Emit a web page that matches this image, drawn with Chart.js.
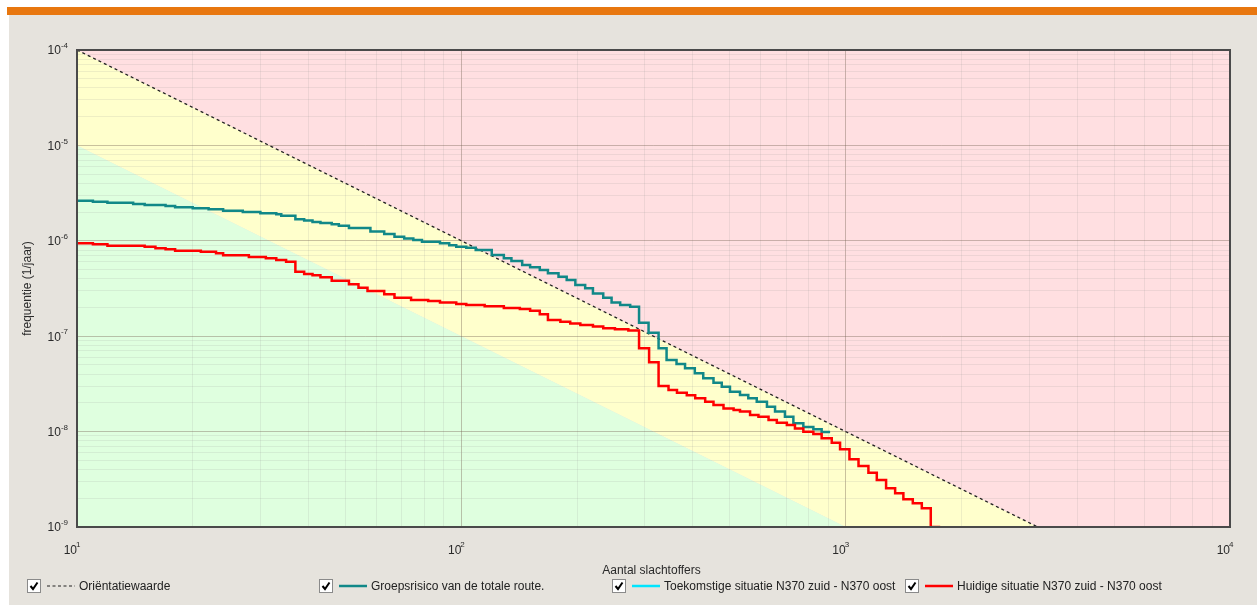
<!DOCTYPE html>
<html>
<head>
<meta charset="utf-8">
<script src="https://cdn.jsdelivr.net/npm/chart.js@4.4.1/dist/chart.umd.min.js"></script>
<style>
  html, body { margin: 0; padding: 0; background: #fff; }
  #page { position: relative; width: 1257px; height: 605px; overflow: hidden; font-family: "Liberation Sans", Arial, sans-serif; }
  #bar { position: absolute; left: 7px; top: 7px; right: 0; height: 8px; background: #e8770f; }
  #panel { position: absolute; left: 9px; top: 15px; right: 0; bottom: 0; background: #e6e3dd; }
  #fnChart { position: absolute; left: 0; top: 0; }
  .item { position: absolute; top: 579px; height: 14px; font-size: 12px; color: #222; white-space: nowrap; }
  .item svg { position: absolute; top: 0; }
  .item span { position: absolute; top: 0; line-height: 14px; }
</style>
</head>
<body>
<div id="page">
  <div id="bar"></div>
  <div id="panel"></div>
  <canvas id="fnChart" width="1257" height="605"></canvas>
  <div id="legend"></div>
</div>
<script>
const FONT = '"Liberation Sans", Arial, sans-serif';

// tick labels (powers of ten)
const xExponents = [1, 2, 3, 4];
const yExponents = [-9, -8, -7, -6, -5, -4];

// zone boundaries (N, f)
const orientatieN = [10, 10000];
const orientatieF = [1e-4, 1e-10];
const groenN = [10, 10000];
const groenF = [1e-5, 1e-11];

// Groepsrisico van de totale route
const groepsN = [10, 11, 12, 14, 15, 17, 18, 20, 22, 24, 27, 30, 33, 34, 37, 39, 41, 43, 46, 48,
  51, 58, 63, 67, 71, 75, 79, 88, 93, 97, 103, 109, 120, 129, 135, 144, 151, 160, 168, 179,
  188, 198, 210, 220, 234, 246, 259, 275, 290, 307, 326, 342, 363, 382, 405, 426, 453, 476, 500, 531,
  558, 587, 624, 655, 695, 731, 776, 824, 866, 911];
const groepsF = [2.63e-6, 2.57e-6, 2.51e-6, 2.43e-6, 2.37e-6, 2.32e-6, 2.25e-6, 2.19e-6, 2.14e-6, 2.07e-6,
  2.00e-6, 1.94e-6, 1.90e-6, 1.83e-6, 1.68e-6, 1.63e-6, 1.57e-6, 1.54e-6, 1.49e-6, 1.44e-6,
  1.36e-6, 1.25e-6, 1.18e-6, 1.10e-6, 1.06e-6, 1.02e-6, 9.8e-7, 9.4e-7, 9.0e-7, 8.67e-7,
  8.47e-7, 8.01e-7, 7.10e-7, 6.56e-7, 6.14e-7, 5.57e-7, 5.27e-7, 4.94e-7, 4.56e-7, 4.20e-7,
  3.88e-7, 3.44e-7, 3.18e-7, 2.81e-7, 2.53e-7, 2.26e-7, 2.12e-7, 2.04e-7, 1.38e-7, 1.09e-7,
  7.47e-8, 5.63e-8, 5.12e-8, 4.61e-8, 4.09e-8, 3.62e-8, 3.26e-8, 2.96e-8, 2.62e-8, 2.42e-8,
  2.23e-8, 2.06e-8, 1.82e-8, 1.62e-8, 1.43e-8, 1.22e-8, 1.12e-8, 1.06e-8, 9.9e-9, 9.9e-9];

// Toekomstige situatie (not visible in the picture)
const toekomstN = [];
const toekomstF = [];

// Huidige situatie N370 zuid - N370 oost
const huidigN = [10, 11, 12, 15, 16, 17, 18, 21, 23, 24, 28, 31, 33, 35, 37, 39, 41, 43, 46, 51,
  54, 57, 63, 67, 74, 82, 88, 97, 103, 115, 129, 142, 151, 160, 168, 181, 192, 204, 220, 234,
  251, 272, 290, 308, 326, 346, 364, 386, 406, 431, 453, 481, 511, 531, 564, 593, 630, 662, 703, 738,
  776, 824, 866, 920, 967, 1023, 1080, 1146, 1205, 1274, 1345, 1413, 1495, 1578, 1665, 1762];
const huidigF = [9.41e-7, 9.19e-7, 8.89e-7, 8.68e-7, 8.34e-7, 8.14e-7, 7.87e-7, 7.69e-7, 7.40e-7, 7.05e-7,
  6.76e-7, 6.56e-7, 6.29e-7, 6.04e-7, 4.74e-7, 4.49e-7, 4.35e-7, 4.14e-7, 3.82e-7, 3.50e-7,
  3.22e-7, 2.98e-7, 2.75e-7, 2.53e-7, 2.40e-7, 2.34e-7, 2.26e-7, 2.18e-7, 2.12e-7, 2.06e-7,
  1.98e-7, 1.93e-7, 1.85e-7, 1.70e-7, 1.48e-7, 1.42e-7, 1.36e-7, 1.31e-7, 1.26e-7, 1.21e-7,
  1.18e-7, 1.15e-7, 7.47e-8, 5.32e-8, 3.01e-8, 2.73e-8, 2.56e-8, 2.40e-8, 2.23e-8, 2.06e-8,
  1.90e-8, 1.75e-8, 1.68e-8, 1.62e-8, 1.49e-8, 1.43e-8, 1.32e-8, 1.24e-8, 1.17e-8, 1.08e-8,
  9.97e-9, 9.44e-9, 8.51e-9, 7.66e-9, 6.52e-9, 5.13e-9, 4.36e-9, 3.71e-9, 3.11e-9, 2.55e-9,
  2.26e-9, 1.95e-9, 1.77e-9, 1.57e-9, 1e-9, 1e-9];

const legendLabels = ['Oriëntatiewaarde', 'Groepsrisico van de totale route.',
  'Toekomstige situatie N370 zuid - N370 oost', 'Huidige situatie N370 zuid - N370 oost'];
const legendColors = ['#222', '#118888', '#00e5ff', '#ff0000'];
const legendLeft = [27, 319, 612, 905];

const toPoints = (xs, ys) => xs.map((v, i) => ({ x: v, y: ys[i] }));

const logTicks = (from, to) => {
    const ticks = [];
    for (let e = from; e < to; e++) {
        for (let m = 1; m <= 9; m++) {
            ticks.push({ value: m * Math.pow(10, e), major: m === 1 });
        }
    }
    ticks.push({ value: Math.pow(10, to), major: true });
    return ticks;
};

const gridColor = (c) => (c.tick && c.tick.major) ? 'rgba(120,100,85,0.4)' : 'rgba(150,150,150,0.16)';

const frameAndLabels = {
    id: 'frameAndLabels',
    afterDraw(chart) {
        const { ctx, chartArea: a, scales: { x, y } } = chart;
        ctx.save();
        ctx.strokeStyle = '#4a4a4a';
        ctx.lineWidth = 2;
        ctx.strokeRect(a.left, a.top, a.right - a.left, a.bottom - a.top);

        ctx.fillStyle = '#2a2a2a';
        ctx.textBaseline = 'middle';
        yExponents.forEach(e => {
            const py = y.getPixelForValue(Math.pow(10, e));
            ctx.font = '8px ' + FONT;
            const ew = ctx.measureText(String(e)).width;
            const ex = a.left - 9 - ew;
            ctx.textAlign = 'left';
            ctx.fillText(String(e), ex, py - 4);
            ctx.font = '12px ' + FONT;
            ctx.textAlign = 'right';
            ctx.fillText('10', ex, py + 1);
        });
        xExponents.forEach(e => {
            const px = x.getPixelForValue(Math.pow(10, e));
            ctx.font = '12px ' + FONT;
            ctx.textAlign = 'right';
            ctx.fillText('10', px, a.bottom + 24);
            ctx.font = '8px ' + FONT;
            ctx.textAlign = 'left';
            ctx.fillText(String(e), px - 1, a.bottom + 18);
        });

        ctx.font = '12px ' + FONT;
        ctx.textAlign = 'center';
        ctx.fillText('Aantal slachtoffers', (a.left + a.right) / 2 - 2, a.bottom + 44);
        ctx.translate(28, (a.top + a.bottom) / 2);
        ctx.rotate(-Math.PI / 2);
        ctx.fillText('frequentie (1/jaar)', 0, 0);
        ctx.restore();
    }
};

const ctx = document.getElementById('fnChart').getContext('2d');

const fnChart = new Chart(ctx, {
    type: 'line',
    data: {
        datasets: [
            {
                label: 'groen',
                data: toPoints(groenN, groenF),
                borderWidth: 0,
                borderColor: 'rgba(0,0,0,0)',
                backgroundColor: '#dfffdf',
                fill: 'start',
                order: 5
            },
            {
                label: 'geel',
                data: toPoints(groenN, groenF),
                borderWidth: 0,
                borderColor: 'rgba(0,0,0,0)',
                backgroundColor: '#ffffcc',
                fill: '+1',
                order: 6
            },
            {
                label: 'Oriëntatiewaarde',
                data: toPoints(orientatieN, orientatieF),
                borderColor: '#222',
                borderWidth: 1.3,
                borderDash: [3, 3],
                backgroundColor: '#ffdfe1',
                fill: 'end',
                order: 3
            },
            {
                label: legendLabels[1],
                data: toPoints(groepsN, groepsF),
                borderColor: legendColors[1],
                borderWidth: 2.5,
                stepped: 'before',
                fill: false,
                order: 1
            },
            {
                label: legendLabels[2],
                data: toPoints(toekomstN, toekomstF),
                borderColor: legendColors[2],
                borderWidth: 2.5,
                stepped: 'before',
                fill: false,
                order: 2
            },
            {
                label: legendLabels[3],
                data: toPoints(huidigN, huidigF),
                borderColor: legendColors[3],
                borderWidth: 2.5,
                stepped: 'before',
                fill: false,
                order: 0
            }
        ]
    },
    options: {
        responsive: false,
        animation: false,
        layout: { padding: { left: 77, top: 50, right: 27, bottom: 78 } },
        elements: { point: { radius: 0 }, line: { tension: 0 } },
        scales: {
            x: {
                type: 'logarithmic',
                min: 10,
                max: 10000,
                afterBuildTicks: (scale) => { scale.ticks = logTicks(1, 4); },
                ticks: { display: false },
                border: { display: false },
                grid: { color: gridColor, drawTicks: false }
            },
            y: {
                type: 'logarithmic',
                min: 1e-9,
                max: 1e-4,
                afterBuildTicks: (scale) => { scale.ticks = logTicks(-9, -4); },
                ticks: { display: false },
                border: { display: false },
                grid: { color: gridColor, drawTicks: false }
            }
        },
        plugins: {
            legend: { display: false },
            tooltip: { enabled: false },
            filler: { drawTime: 'beforeDraw' }
        }
    },
    plugins: [frameAndLabels]
});

// legend with check boxes
const legend = document.getElementById('legend');
legendLabels.forEach((label, i) => {
    const item = document.createElement('div');
    item.className = 'item';
    item.style.left = legendLeft[i] + 'px';
    const dash = i === 0 ? ' stroke-dasharray="3,2.5"' : '';
    const lineW = i === 0 ? 1.2 : 2.5;
    item.innerHTML =
        '<svg width="60" height="14" style="left:0">' +
        '<rect x="0.5" y="0.5" width="13" height="13" fill="#fff" stroke="#8a8a8a"/>' +
        '<polyline points="3.5,7 6,10 10.5,3.5" fill="none" stroke="#000" stroke-width="2"/>' +
        '<line x1="20" y1="7" x2="48" y2="7" stroke="' + legendColors[i] + '" stroke-width="' + lineW + '"' + dash + '/>' +
        '</svg>' +
        '<span style="left:52px">' + label + '</span>';
    legend.appendChild(item);
});
</script>
</body>
</html>
